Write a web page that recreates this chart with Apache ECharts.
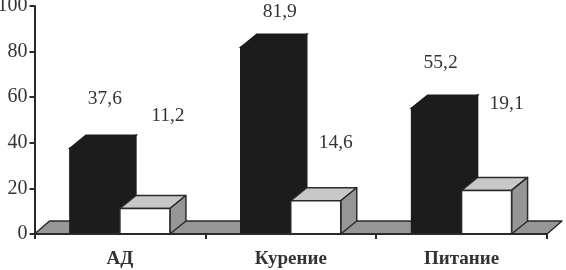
<!DOCTYPE html>
<html><head><meta charset="utf-8">
<style>html,body{margin:0;padding:0;background:#fff}#c{width:566px;height:270px}</style>
<script src="https://cdn.jsdelivr.net/npm/echarts@6/dist/echarts.min.js"></script>
</head><body><div id="c"></div>
<script>
const categories = ['АД', 'Курение', 'Питание'];
const blackValues = [37.6, 81.9, 55.2];
const whiteValues = [11.2, 14.6, 19.1];
const yTicks = [0, 20, 40, 60, 80, 100];

const chart = echarts.init(document.getElementById('c'), null, {renderer: 'canvas'});
const INK = '#2a2a2a', TEXT = '#333333', FONT = '"Liberation Serif", serif';
const DX = 16, DY = 13, BAR = 50, EDGE = {stroke: INK, lineWidth: 1.5, lineJoin: 'round'};

function poly(points, fill, edge) {
  return {type: 'polygon', shape: {points}, style: Object.assign({fill}, edge || EDGE)};
}
function box(x, yTop, yBase, w, front, top, side, edge) {
  return [
    poly([[x, yTop], [x + DX, yTop - DY], [x + w + DX, yTop - DY], [x + w, yTop]], top, edge),
    poly([[x + w, yTop], [x + w + DX, yTop - DY], [x + w + DX, yBase - DY], [x + w, yBase]], side, edge),
    poly([[x, yTop], [x + w, yTop], [x + w, yBase], [x, yBase]], front, edge)
  ];
}
function barSeries(name, values, side, colors, labelShift, z) {
  return {
    type: 'custom', name, z, clip: false,
    data: values.map((v, i) => [i, v]),
    renderItem(params, api) {
      const i = api.value(0), v = api.value(1);
      const p = api.coord([i, v]), base = api.coord([i, 0]);
      const x = side === 0 ? p[0] - BAR : p[0];
      const s = labelShift[i];
      const edge = side === 0 ? {stroke: colors[0], lineWidth: 1.5} : EDGE;
      return {type: 'group', children: box(x, p[1], base[1], BAR, colors[0], colors[1], colors[2], edge).concat([{
        type: 'text',
        style: {x: p[0] + s[0], y: p[1] + s[1], text: String(v).replace('.', ','), fill: TEXT,
                font: '19.5px ' + FONT, textAlign: 'center', textVerticalAlign: 'middle'}
      }])};
    }
  };
}
const floorSeries = {
  type: 'custom', name: 'floor', z: 1, clip: false, data: [[0]],
  renderItem(params) {
    const r = params.coordSys, b = r.y + r.height, t = b - DY;
    return poly([[r.x, b], [r.x + DX - 1, t], [r.x + r.width + 15, t], [r.x + r.width, b]], '#969696');
  }
};

chart.setOption({
  animation: false,
  backgroundColor: '#fff',
  grid: {left: 34.5, right: 19, top: 6, bottom: 36, containLabel: false, outerBoundsMode: 'none'},
  xAxis: {
    type: 'category', data: categories, z: 10,
    axisLine: {lineStyle: {color: INK, width: 2}},
    axisTick: {show: true, length: 5, lineStyle: {color: INK, width: 2}},
    axisLabel: {color: TEXT, fontFamily: FONT, fontWeight: 'bold', fontSize: 19, margin: 16}
  },
  yAxis: {
    type: 'value', min: 0, max: 100, interval: 20, z: 10,
    axisLine: {show: true, lineStyle: {color: INK, width: 2}},
    axisTick: {show: true, length: 5, lineStyle: {color: INK, width: 2}},
    splitLine: {show: false},
    axisLabel: {color: TEXT, fontFamily: FONT, fontSize: 20, margin: 7,
      showMinLabel: true, showMaxLabel: true, customValues: yTicks}
  },
  series: [
    floorSeries,
    barSeries('black', blackValues, 0, ['#1c1c1c', '#1c1c1c', '#1c1c1c'], [[-15, -49], [-11, -35], [-21, -45]], 2),
    barSeries('white', whiteValues, 1, ['#ffffff', '#c8c8c8', '#969696'], [[48, -93], [45, -58], [45, -87]], 3)
  ]
});
</script></body></html>
